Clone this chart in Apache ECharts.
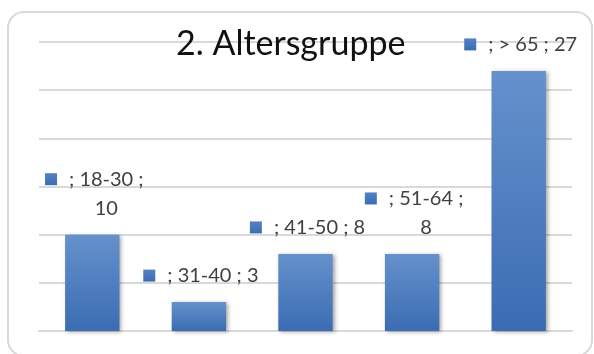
<!DOCTYPE html>
<html>
<head>
<meta charset="utf-8">
<script src="https://cdn.jsdelivr.net/npm/echarts@6/dist/echarts.min.js"></script>
<style>
  html, body { margin: 0; padding: 0; background: #fff; }
  #chart { width: 594px; height: 354px; }
</style>
</head>
<body>
<div id="chart"></div>
<script>
// Age groups and number of respondents in each
const categories = ['18-30', '31-40', '41-50', '51-64', '> 65'];
const counts = [10, 3, 8, 8, 27];
// Groups whose data label wraps onto a second line
const wrappedLabels = ['18-30', '51-64'];

const FONT = 'Lato';
const chart = echarts.init(document.getElementById('chart'));

function labelText(params) {
  const cat = categories[params.dataIndex];
  const val = params.value;
  if (wrappedLabels.indexOf(cat) >= 0) {
    return '{k|}{g|}{t|; ' + cat + ' ;}\n{s|}{t|' + val + '}';
  }
  return '{k|}{g|}{t|; ' + cat + ' ; ' + val + '}';
}

chart.setOption({
  animation: false,
  title: {
    text: '2. Altersgruppe',
    left: 171,
    top: 22,
    textStyle: { fontFamily: FONT, fontSize: 34, fontWeight: 'normal', color: '#111' }
  },
  graphic: [{
    type: 'rect',
    shape: { x: 8, y: 12, width: 584, height: 344, r: 16 },
    style: { fill: 'none', stroke: '#d9d9d9', lineWidth: 2 },
    z: -1
  }],
  grid: { left: 39, right: 22, top: 42, bottom: 23 },
  xAxis: {
    type: 'category',
    data: categories,
    axisLine: { lineStyle: { color: '#d9d9d9', width: 2 } },
    axisTick: { show: false },
    axisLabel: { show: false }
  },
  yAxis: {
    type: 'value',
    min: 0, max: 30, interval: 5,
    axisLabel: { show: false },
    axisLine: { show: false },
    axisTick: { show: false },
    splitLine: { lineStyle: { color: '#d9d9d9', width: 2 } }
  },
  series: [{
    type: 'bar',
    data: counts,
    barWidth: '51%',
    itemStyle: {
      color: new echarts.graphic.LinearGradient(0, 0, 0, 1, [
        { offset: 0, color: '#6591cc' },
        { offset: 1, color: '#3b6cb3' }
      ]),
      shadowColor: 'rgba(0,0,0,0.35)',
      shadowBlur: 4,
      shadowOffsetX: 2,
      shadowOffsetY: 1
    },
    label: {
      show: true,
      position: 'top',
      distance: 12,
      offset: [2, 0],
      formatter: labelText,
      lineHeight: 29,
      rich: {
        k: {
          width: 12, height: 12,
          backgroundColor: new echarts.graphic.LinearGradient(0, 0, 0, 1, [
            { offset: 0, color: '#5482c4' },
            { offset: 1, color: '#3b6cb3' }
          ])
        },
        g: { width: 12, height: 12 },
        s: { width: 24, height: 12 },
        t: { fontFamily: FONT, fontSize: 20, color: '#404040', lineHeight: 29 }
      }
    }
  }]
});
</script>
</body>
</html>
